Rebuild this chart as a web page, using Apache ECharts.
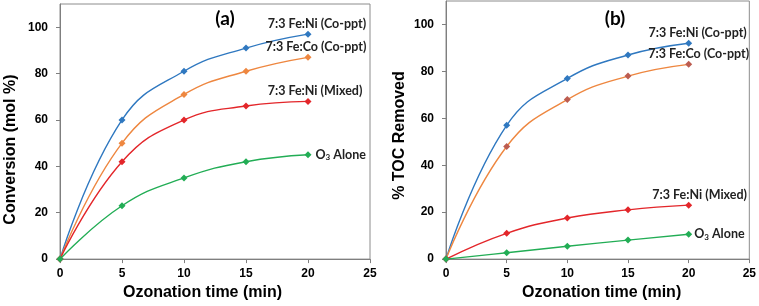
<!DOCTYPE html>
<html>
<head>
<meta charset="utf-8">
<script src="https://cdn.jsdelivr.net/npm/echarts@6/dist/echarts.min.js"></script>
<style>
  html, body { margin: 0; padding: 0; background: #fff; }
  #chart { width: 759px; height: 306px; }
</style>
</head>
<body>
<div id="chart"></div>
<script>
  // ozonation time (min), shared by both panels
  const times = [0, 5, 10, 15, 20];
  const yTicks = [0, 20, 40, 60, 80, 100];

  const seriesNames = ['7:3 Fe:Ni (Co-ppt)', '7:3 Fe:Co (Co-ppt)', '7:3 Fe:Ni (Mixed)', 'O3 Alone'];

  // (a) conversion, mol %
  const convFeNiCoppt = [0, 60, 81, 91, 97];
  const convFeCoCoppt = [0, 50, 71, 81, 87];
  const convFeNiMixed = [0, 42, 60, 66, 68];
  const convO3Alone   = [0, 23, 35, 42, 45];

  // (b) % TOC removed
  const tocFeNiCoppt = [0, 57, 77, 87, 92];
  const tocFeCoCoppt = [0, 48, 68, 78, 83];
  const tocFeNiMixed = [0, 11, 17.5, 21, 23];
  const tocO3Alone   = [0, 2.7, 5.5, 8.1, 10.6];

  const colors = {
    blue: '#2F78C0',
    orange: '#EE8740',
    red: '#E3262A',
    green: '#22AD55',
    brown: '#BC5C50'
  };

  const labelFont = 'Lato';

  // label on the last point of each curve
  function endLabel(name, dx, isO3, dist) {
    if (isO3) {
      return {
        show: true,
        position: 'right',
        distance: dist,
        formatter: 'O{sub|3} Alone',
        color: '#222',
        fontFamily: labelFont,
        fontWeight: 'bold',
        fontSize: 12.5,
        rich: {
          sub: { fontSize: 8, fontFamily: labelFont, fontWeight: 'bold', color: '#222', verticalAlign: 'bottom', padding: [6, 0, 0, 0] }
        }
      };
    }
    return {
      show: true,
      position: 'top',
      distance: 0,
      offset: [dx, 0],
      formatter: name,
      color: '#222',
      fontFamily: labelFont,
      fontWeight: 'bold',
      fontSize: 12.5
    };
  }

  function makeSeries(idx, name, values, color, markerColor, lbl) {
    const data = values.map((v, i) => {
      const item = { value: [times[i], v] };
      if (i === values.length - 1) item.label = lbl;
      return item;
    });
    return {
      name: name,
      type: 'line',
      xAxisIndex: idx,
      yAxisIndex: idx,
      smooth: 0.45,
      symbol: 'diamond',
      symbolSize: 7,
      showAllSymbol: true,
      lineStyle: { color: color, width: 1.4 },
      itemStyle: { color: markerColor },
      label: { show: false },
      emphasis: { disabled: true },
      animation: false,
      data: data
    };
  }

  const axisFont = { color: '#000', fontFamily: 'Liberation Sans', fontWeight: 'bold', fontSize: 12 };
  const nameFont = { color: '#000', fontFamily: 'Liberation Sans', fontWeight: 'bold', fontSize: 16 };

  function xAxis(idx, shift) {
    return {
      type: 'value',
      gridIndex: idx,
      min: 0, max: 25, interval: 5,
      name: 'Ozonation time (min)',
      nameLocation: 'middle',
      nameGap: 24,
      nameTextStyle: Object.assign({}, nameFont, { padding: shift }),
      axisLine: { show: true, lineStyle: { color: '#7f7f7f', width: 1 } },
      axisTick: { show: true, inside: false, length: 4, lineStyle: { color: '#7f7f7f' } },
      axisLabel: Object.assign({ margin: 9 }, axisFont),
      splitLine: { show: false }
    };
  }

  function yAxis(idx, name, gap, shift) {
    return {
      type: 'value',
      gridIndex: idx,
      min: 0, max: 110, interval: 20,
      name: name,
      nameLocation: 'middle',
      nameGap: gap,
      nameTextStyle: Object.assign({}, nameFont, { padding: shift }),
      axisLine: { show: true, lineStyle: { color: '#7f7f7f', width: 1 } },
      axisTick: { show: true, inside: false, length: 4, customValues: yTicks, lineStyle: { color: '#7f7f7f' } },
      axisLabel: Object.assign({ margin: 12, customValues: yTicks }, axisFont),
      splitLine: { show: false }
    };
  }

  const option = {
    backgroundColor: '#fff',
    title: [
      { text: '(a)', left: 220, top: 4, textAlign: 'center',
        textStyle: { fontFamily: labelFont, fontWeight: 'bold', fontSize: 19, color: '#000' } },
      { text: '(b)', left: 610, top: 4, textAlign: 'center',
        textStyle: { fontFamily: labelFont, fontWeight: 'bold', fontSize: 19, color: '#000' } }
    ],
    grid: [
      { left: 60, top: 4, right: 389, bottom: 42, show: true, borderColor: '#8c8c8c', borderWidth: 1 },
      { left: 446, top: 1, right: 8, bottom: 41, show: true, borderColor: '#8c8c8c', borderWidth: 1 }
    ],
    xAxis: [xAxis(0, [0, 25, 0, 0]), xAxis(1, [0, 0, 0, 8])],
    yAxis: [
      yAxis(0, 'Conversion (mol %)', 41, [0, 36, 0, 0]),
      yAxis(1, '% TOC Removed', 38, [0, 11, 0, 0])
    ],
    series: [
      makeSeries(0, seriesNames[0], convFeNiCoppt, colors.blue, colors.blue, endLabel(seriesNames[0], 9)),
      makeSeries(0, seriesNames[1], convFeCoCoppt, colors.orange, colors.orange, endLabel(seriesNames[1], 8)),
      makeSeries(0, seriesNames[2], convFeNiMixed, colors.red, colors.red, endLabel(seriesNames[2], 7)),
      makeSeries(0, seriesNames[3], convO3Alone, colors.green, colors.green, endLabel(seriesNames[3], 0, true, 4)),
      makeSeries(1, seriesNames[0], tocFeNiCoppt, colors.blue, colors.blue, endLabel(seriesNames[0], 9)),
      makeSeries(1, seriesNames[1], tocFeCoCoppt, colors.orange, colors.brown, endLabel(seriesNames[1], 10)),
      makeSeries(1, seriesNames[2], tocFeNiMixed, colors.red, colors.red, endLabel(seriesNames[2], 11)),
      makeSeries(1, seriesNames[3], tocO3Alone, colors.green, colors.green, endLabel(seriesNames[3], 0, true, 2))
    ]
  };

  const myChart = echarts.init(document.getElementById('chart'));
  myChart.setOption(option);
</script>
</body>
</html>
